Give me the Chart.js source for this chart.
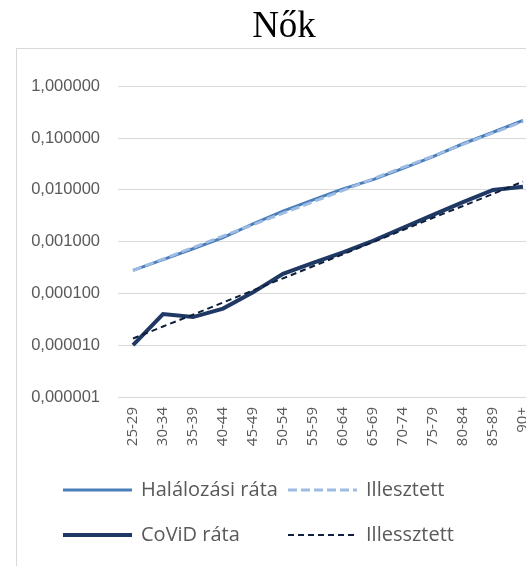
<!DOCTYPE html>
<html>
<head>
<meta charset="utf-8">
<script src="https://cdn.jsdelivr.net/npm/chart.js@4.4.1/dist/chart.umd.min.js"></script>
<style>
html, body { margin: 0; padding: 0; background: #fff; overflow: hidden; }
#wrap { position: relative; width: 560px; height: 566px; }
</style>
</head>
<body>
<div id="wrap"><canvas id="myChart"></canvas></div>
<script>
var korcsoportok = ['25-29', '30-34', '35-39', '40-44', '45-49', '50-54', '55-59', '60-64', '65-69', '70-74', '75-79', '80-84', '85-89', '90+'];
var halalozasiRata = [0.00028, 0.00045, 0.00073, 0.0012, 0.0022, 0.0039, 0.0064, 0.0105, 0.0158, 0.026, 0.044, 0.078, 0.13, 0.22];
var halalozasiIllesztett = [0.00028, 0.00046, 0.00077, 0.00128, 0.00213, 0.00355, 0.0059, 0.0098, 0.0164, 0.0273, 0.045, 0.076, 0.126, 0.21];
var covidRata = [0.00001, 0.00004, 0.000035, 0.000051, 0.000105, 0.00024, 0.00039, 0.00062, 0.00104, 0.00186, 0.0033, 0.0058, 0.01, 0.0115];
var covidIllesztett = [0.0000135, 0.000023, 0.000039, 0.000067, 0.000115, 0.000196, 0.000335, 0.00057, 0.00098, 0.00168, 0.0029, 0.0049, 0.0084, 0.0145];
var yErtekek = [0.000001, 0.00001, 0.0001, 0.001, 0.01, 0.1, 1];
var yFeliratok = ['0,000001', '0,000010', '0,000100', '0,001000', '0,010000', '0,100000', '1,000000'];

Chart.defaults.font.family = '"Open Sans"';
Chart.defaults.color = '#595959';

// keret a diagram körül
var keret = {
    id: 'keret',
    beforeDraw: function(chart) {
        var c = chart.ctx;
        c.save();
        c.strokeStyle = '#d9d9d9';
        c.lineWidth = 1;
        c.strokeRect(16.5, 48.5, 560, 600);
        c.restore();
    }
};

// jelmagyarázat 2x2 rácsban, mint az Excelben
var jelmagyarazat = {
    id: 'jelmagyarazat',
    afterDraw: function(chart) {
        var c = chart.ctx;
        var helyek = [[63, 490], [288, 490], [63, 535], [288, 535]];
        chart.data.datasets.forEach(function(ds, i) {
            var x = helyek[i][0], y = helyek[i][1];
            c.save();
            c.strokeStyle = ds.borderColor;
            c.lineWidth = ds.borderWidth;
            c.setLineDash(ds.borderDash || []);
            c.beginPath();
            c.moveTo(x, y);
            c.lineTo(x + 69, y);
            c.stroke();
            c.setLineDash([]);
            c.fillStyle = '#595959';
            c.font = '20px "Open Sans"';
            c.textBaseline = 'middle';
            c.fillText(ds.label, x + 78, y);
            c.restore();
        });
    }
};

var ctx = document.getElementById('myChart').getContext('2d');
var myChart = new Chart(ctx, {
    type: 'line',
    data: {
        labels: korcsoportok,
        datasets: [{
            label: 'Halálozási ráta',
            data: halalozasiRata,
            borderColor: '#4a7ebb',
            borderWidth: 3,
            order: 4
        }, {
            label: 'Illesztett',
            data: halalozasiIllesztett,
            borderColor: '#9dbbe3',
            borderWidth: 3,
            borderDash: [9, 4],
            order: 3
        }, {
            label: 'CoViD ráta',
            data: covidRata,
            borderColor: '#1f3864',
            borderWidth: 4,
            order: 2
        }, {
            label: 'Illessztett',
            data: covidIllesztett,
            borderColor: '#0e1f3d',
            borderWidth: 2,
            borderDash: [6, 4],
            order: 1
        }]
    },
    options: {
        responsive: true,
        maintainAspectRatio: false,
        animation: false,
        elements: {
            point: { radius: 0 },
            line: { tension: 0, fill: false }
        },
        layout: {
            padding: { left: 30, right: 22, top: 0, bottom: 109 }
        },
        plugins: {
            legend: { display: false },
            tooltip: { enabled: false },
            title: {
                display: true,
                text: 'Nők',
                color: '#000',
                font: { family: '"Liberation Serif"', size: 37, weight: 'normal' },
                padding: { top: 5, bottom: 37 }
            }
        },
        scales: {
            x: {
                offset: true,
                grid: { display: false, drawTicks: false },
                border: { display: false },
                ticks: {
                    autoSkip: false,
                    maxRotation: 90,
                    minRotation: 90,
                    padding: 10,
                    color: '#595959',
                    font: { family: '"Open Sans"', size: 15 }
                },
                afterFit: function(scale) { scale.height = 60; }
            },
            y: {
                type: 'logarithmic',
                min: 0.000001,
                max: 1,
                grid: { color: '#d9d9d9', lineWidth: 1, drawTicks: false },
                border: { display: false },
                afterBuildTicks: function(scale) {
                    scale.ticks = yErtekek.map(function(v) { return { value: v }; });
                },
                ticks: {
                    padding: 18,
                    color: '#595959',
                    font: { family: '"Liberation Sans"', size: 16.5 },
                    callback: function(value, index) { return yFeliratok[index]; }
                },
                afterFit: function(scale) { scale.width = 88; }
            }
        }
    },
    plugins: [keret, jelmagyarazat]
});
</script>
</body>
</html>
